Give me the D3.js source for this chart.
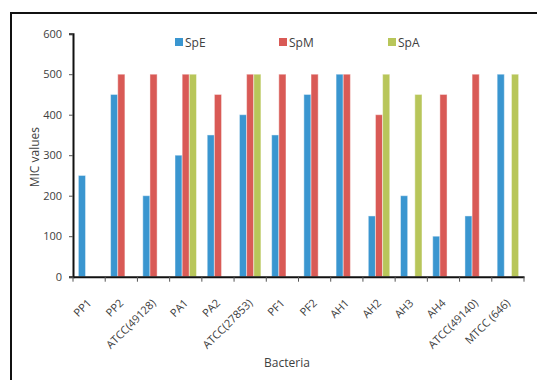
<!DOCTYPE html>
<html>
<head>
<meta charset="utf-8">
<script src="https://cdn.jsdelivr.net/npm/d3@7"></script>
<style>
  html, body { margin: 0; padding: 0; background: #fff; }
  svg { display: block; }
  text { font-family: "Open Sans", "DejaVu Sans", sans-serif; fill: #404040; }
</style>
</head>
<body>
<svg id="chart" width="537" height="380"></svg>
<script>
// Bacterial strains tested
const categories = ["PP1", "PP2", "ATCC(49128)", "PA1", "PA2", "ATCC(27853)", "PF1", "PF2",
                    "AH1", "AH2", "AH3", "AH4", "ATCC(49140)", "MTCC (646)"];
// MIC values per extract (0 = no bar)
const spE = [250, 450, 200, 300, 350, 400, 350, 450, 500, 150, 200, 100, 150, 500];
const spM = [0, 500, 500, 500, 450, 500, 500, 500, 500, 400, 0, 450, 500, 0];
const spA = [0, 0, 0, 500, 0, 500, 0, 0, 0, 500, 450, 0, 0, 500];
const seriesNames = ["SpE", "SpM", "SpA"];
const seriesColors = ["#3A96D0", "#D95A56", "#B8C65A"];
const yTicks = [0, 100, 200, 300, 400, 500, 600];

const series = [spE, spM, spA];
const svg = d3.select("#chart");

// outer frame
svg.append("rect")
  .attr("x", 11).attr("y", 13).attr("width", 600).attr("height", 420)
  .attr("fill", "none").attr("stroke", "#111").attr("stroke-width", 2);

const plotLeft = 73, plotRight = 524, plotTop = 33.7, plotBottom = 276.7;

const x = d3.scaleBand().domain(categories).range([plotLeft, plotRight]).paddingInner(0).paddingOuter(0);
const bw = x.bandwidth();
const barW = bw / 4.5;
const y = d3.scaleLinear().domain([0, 600]).range([plotBottom, plotTop]);

// bars
series.forEach((vals, si) => {
  svg.append("g").selectAll("rect")
    .data(vals.map((v, i) => ({ v, c: categories[i] })).filter(d => d.v > 0))
    .join("rect")
    .attr("x", d => x(d.c) + 0.75 * barW + si * barW)
    .attr("y", d => y(d.v))
    .attr("width", barW)
    .attr("height", d => y(0) - y(d.v))
    .attr("fill", seriesColors[si])
    .attr("stroke", "rgba(255,255,255,0.45)")
    .attr("stroke-width", 1);
});

// y axis
const yAxis = svg.append("g")
  .attr("transform", `translate(${plotLeft},0)`)
  .call(d3.axisLeft(y).tickValues(yTicks).tickSize(4).tickPadding(7));
yAxis.select(".domain").attr("stroke", "#111").attr("stroke-width", 2);
yAxis.selectAll(".tick line").attr("stroke", "#555");
yAxis.selectAll(".tick text").style("font-size", "11px").attr("fill", "#404040");

// x axis
const xAxis = svg.append("g")
  .attr("transform", `translate(0,${plotBottom})`)
  .call(d3.axisBottom(x).tickSize(0).tickFormat(""));
xAxis.select(".domain").attr("stroke", "#111").attr("stroke-width", 2);
// tick marks at category boundaries
svg.append("g").selectAll("line")
  .data(categories.map(c => x(c)).concat([plotRight]))
  .join("line")
  .attr("x1", d => d).attr("x2", d => d)
  .attr("y1", plotBottom).attr("y2", plotBottom + 5)
  .attr("stroke", "#555");

// rotated category labels
svg.append("g").selectAll("text")
  .data(categories)
  .join("text")
  .attr("transform", d => `translate(${x(d) + bw / 2 + 3},${plotBottom + 27}) rotate(-45)`)
  .attr("text-anchor", "end")
  .style("font-size", "11px")
  .text(d => d);

// axis titles
svg.append("text")
  .attr("transform", `translate(39,${(plotTop + plotBottom) / 2 + 2}) rotate(-90)`)
  .attr("text-anchor", "middle")
  .style("font-size", "12px")
  .text("MIC values");

svg.append("text")
  .attr("x", 287).attr("y", 367)
  .attr("text-anchor", "middle")
  .style("font-size", "12px")
  .text("Bacteria");

// legend
const legendX = [175, 279, 388];
const legend = svg.append("g").selectAll("g")
  .data(seriesNames)
  .join("g")
  .attr("transform", (d, i) => `translate(${legendX[i]},38)`);
legend.append("rect").attr("width", 8).attr("height", 8)
  .attr("fill", (d, i) => seriesColors[i]);
legend.append("text").attr("x", 10).attr("y", 8.5)
  .style("font-size", "12px")
  .text(d => d);
</script>
</body>
</html>
